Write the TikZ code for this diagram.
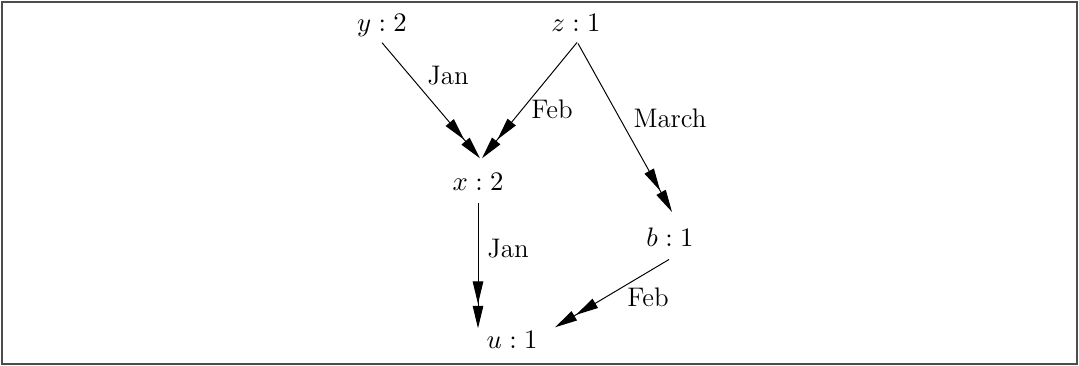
\documentclass[tikz,border=0pt]{standalone}
\usetikzlibrary{arrows.meta,calc}
\begin{document}
\begin{tikzpicture}[x=0.41pt,y=-0.41pt,
  every node/.style={font=\fontsize{11}{13}\selectfont},
  lbl/.style={inner sep=0pt,anchor=base},
  vtx/.style={inner sep=0pt,anchor=base},
  edge/.style={line width=0.4pt,-{Triangle[length=9.2pt,width=4.3pt,sep=0.8pt] Triangle[length=9.2pt,width=4.3pt]}}]
\useasboundingbox (0,0) rectangle (1079,366);
\draw[line width=0.8pt,black!70] (2,2) rectangle (1077,364);
\node[vtx] (y) at (382,32) {$y:2$};
\node[vtx] (z) at (576,32) {$z:1$};
\node[vtx] (x) at (478,190) {$x:2$};
\node[vtx] (b) at (670,246) {$b:1$};
\node[vtx] (u) at (512,348) {$u:1$};
\draw[edge] ($(y.south)+(0,5)$) -- ($(x.north)+(2,-14)$);
\draw[edge] ($(z.south)+(1,10)$) -- ($(x.north)+(4,-14)$);
\draw[edge] ($(z.south)+(2,11)$) -- ($(b.north)+(2,-15)$);
\draw[edge] ($(x.south)+(0,13)$) -- ($(u.north)+(-34,-2)$);
\draw[edge] ($(b.south)+(-1,13)$) -- ($(u.north)+(43,-3)$);
\node[lbl] (l1) at (448,85) {Jan};
\node[lbl] (l2) at (552,119) {Feb};
\node[lbl] (l3) at (670,128) {March};
\node[lbl] (l4) at (508,257) {Jan};
\node[lbl] (l5) at (648,306) {Feb};
\end{tikzpicture}
\end{document}
